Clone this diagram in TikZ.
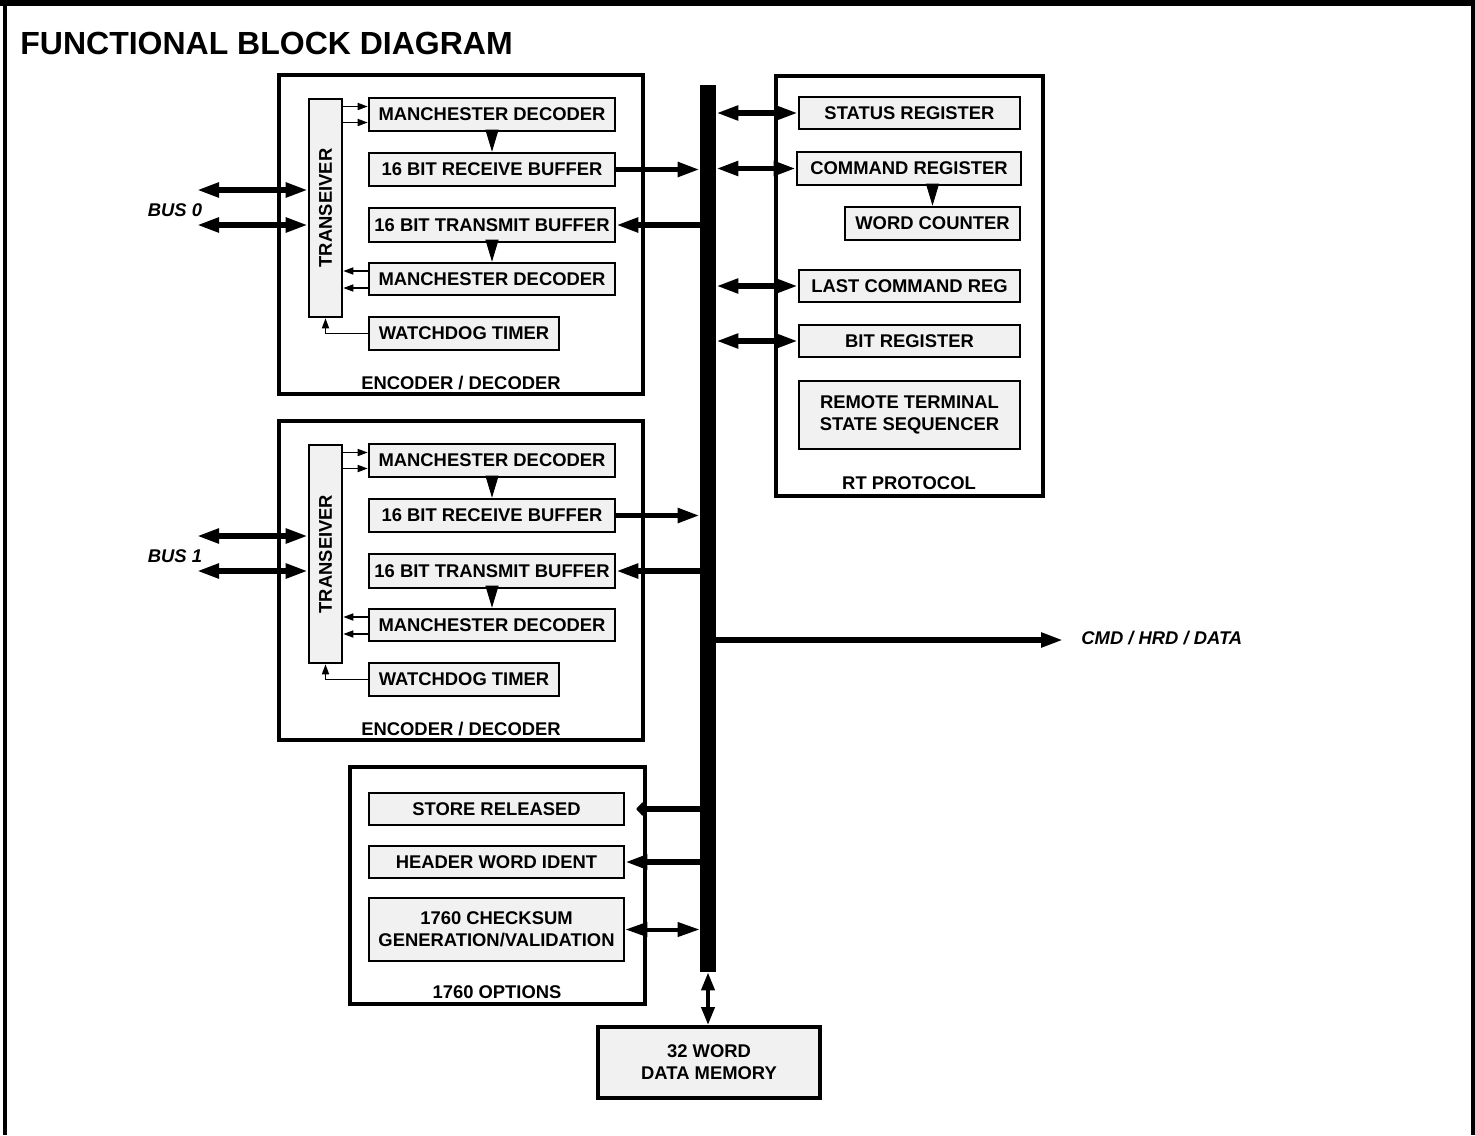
\documentclass[tikz,border=0pt]{standalone}
\usepackage{graphicx}
\usepackage{fontspec}
\setmainfont{Liberation Sans}
\usetikzlibrary{arrows.meta}
\usetikzlibrary{calc}
\definecolor{regfill}{RGB}{241,241,241}
\tikzset{
  reg/.style={draw, line width=1.3pt, fill=regfill, inner sep=0pt, align=center, font=\fontsize{9.2}{11}\selectfont\bfseries},
  unit/.style={draw, line width=2pt, inner sep=0pt},
  membox/.style={reg, line width=2pt},
  busbar/.style={fill=black, inner sep=0pt},
  lbl/.style={inner sep=0pt, font=\fontsize{9.2}{11}\selectfont\bfseries},
  ilbl/.style={inner sep=0pt, font=\fontsize{9.2}{11}\selectfont\bfseries\itshape},
  wide/.style={line width=2.6pt, -{Triangle[length=11pt,width=7pt]}},
  widetwo/.style={line width=2.6pt, {Triangle[length=11pt,width=7pt]}-{Triangle[length=11pt,width=7pt]}},
  slim/.style={line width=0.8pt, -{Triangle[length=5pt,width=3.5pt]}},
  tri/.style={line width=0.4pt, -{Triangle[length=11pt,width=6.5pt]}}
}
\newcommand{\blk}[7][reg]{\node[#1, minimum width={(#5-#3)*0.5pt}, minimum height={(#6-#4)*0.5pt}] (#2) at ({(#3+#5)/2},{(#4+#6)/2}) {#7};}
\newcommand{\encblock}[3]{
  \begin{scope}[shift={(0,#2)}]
    \blk[unit]{enc#1}{279}{75}{643}{394}{}
    \node[lbl] (enclbl#1) at (461,383) {ENCODER / DECODER};
    \blk{tr#1}{309}{99}{342}{317}{\rotatebox{90}{TRANSEIVER}}
    \blk{mdin#1}{369}{98}{615}{131}{MANCHESTER DECODER}
    \blk{rx#1}{369}{153}{615}{186}{16 BIT RECEIVE BUFFER}
    \blk{tx#1}{369}{208}{615}{242}{16 BIT TRANSMIT BUFFER}
    \blk{mdout#1}{369}{263}{615}{295}{MANCHESTER DECODER}
    \blk{wd#1}{369}{317}{559}{350}{WATCHDOG TIMER}
    % bus lines
    \coordinate (busa#1) at (197,190);
    \coordinate (busb#1) at (197,225);
    \draw[widetwo] (busa#1) -- (tr#1.west |- busa#1);
    \draw[widetwo] (busb#1) -- (tr#1.west |- busb#1);
    \node[ilbl] (buslbl#1) at (175,210) {#3};
    % inside
    \path (mdin#1.west) ++(0,-8) coordinate (ina#1) ++(0,16) coordinate (inb#1);
    \path (mdout#1.west) ++(0,-8) coordinate (outa#1) ++(0,17) coordinate (outb#1);
    \draw[slim] (tr#1.east |- ina#1) -- (ina#1);
    \draw[slim] (tr#1.east |- inb#1) -- (inb#1);
    \draw[slim] (outa#1) -- (tr#1.east |- outa#1);
    \draw[slim] (outb#1) -- (tr#1.east |- outb#1);
    \draw[slim] (wd#1.west) -| (tr#1.south);
    \draw[tri] (mdin#1.south) -- (rx#1.north);
    \draw[tri] (tx#1.south) -- (mdout#1.north);
    % to the bus
    \draw[wide] (rx#1.east) -- (rx#1.east -| bar.west);
    \draw[wide] (tx#1.east -| bar.west) -- (tx#1.east);
  \end{scope}
}

\begin{document}
\begin{tikzpicture}[x=0.5pt, y=-0.5pt]
  \useasboundingbox (0,0) rectangle (1475,1135);
  % frame
  \fill (0,0) rectangle (1475,6);
  \fill (3,0) rectangle (7,1135);
  \fill (1471,0) rectangle (1475,1135);
  \node[anchor=base west, inner sep=0pt, font=\fontsize{16}{19}\selectfont\bfseries] (title) at (20,54) {FUNCTIONAL BLOCK DIAGRAM};
  % bus
  \blk[busbar]{bar}{700}{85}{716}{972}{}
  % encoder / decoder
  \encblock{0}{0}{BUS 0}
  \encblock{1}{346}{BUS 1}
  % rt protocol
  \blk[unit]{rt}{776}{76}{1043}{496}{}
  \node[lbl] (rtlbl) at (909,483) {RT PROTOCOL};
  \blk{sreg}{799}{97}{1020}{129}{STATUS REGISTER}
  \blk{creg}{797}{152}{1021}{185}{COMMAND REGISTER}
  \blk{wcnt}{845}{207}{1020}{240}{WORD COUNTER}
  \blk{lcreg}{799}{270}{1020}{302}{LAST COMMAND REG}
  \blk{breg}{799}{325}{1020}{357}{BIT REGISTER}
  \blk{seq}{799}{381}{1020}{449}{REMOTE TERMINAL\\STATE SEQUENCER}
  \draw[widetwo] (bar.east |- sreg.west) -- (sreg.west);
  \draw[widetwo] (bar.east |- creg.west) -- (creg.west);
  \draw[widetwo] (bar.east |- lcreg.west) -- (lcreg.west);
  \draw[widetwo] (bar.east |- breg.west) -- (breg.west);
  \draw[tri] (creg.south -| wcnt.north) -- (wcnt.north);
  % output
  \coordinate (cmdend) at (1063,640);
  \draw[wide] (bar.east |- cmdend) -- (cmdend);
  \node[ilbl, anchor=west] (cmdlbl) at ([xshift=9pt,yshift=1pt]cmdend) {CMD / HRD / DATA};
  % 1760 options
  \blk[unit]{opt}{350}{767}{645}{1004}{}
  \node[lbl] (optlbl) at (497,992) {1760 OPTIONS};
  \blk{store}{369}{793}{624}{825}{STORE RELEASED}
  \blk{hdr}{369}{846}{624}{878}{HEADER WORD IDENT}
  \blk{csum}{369}{898}{624}{961}{1760 CHECKSUM\\GENERATION/VALIDATION}
  \draw[line width=2.6pt, -{Triangle[length=4pt,width=8pt,round]}, shorten >=5.5pt] (bar.west |- store.east) -- (store.east);
  \draw[wide] (bar.west |- hdr.east) -- (hdr.east);
  \draw[line width=2pt, {Triangle[length=11pt,width=7pt]}-{Triangle[length=11pt,width=7pt]}] (csum.east) -- (bar.west |- csum.east);
  % memory
  \blk[membox]{mem}{598}{1027}{820}{1098}{32 WORD\\DATA MEMORY}
  \draw[line width=2pt, {Triangle[length=9pt,width=6.5pt]}-{Triangle[length=9pt,width=6.5pt]}] (bar.south) -- (bar.south |- mem.north);
\end{tikzpicture}
\end{document}
